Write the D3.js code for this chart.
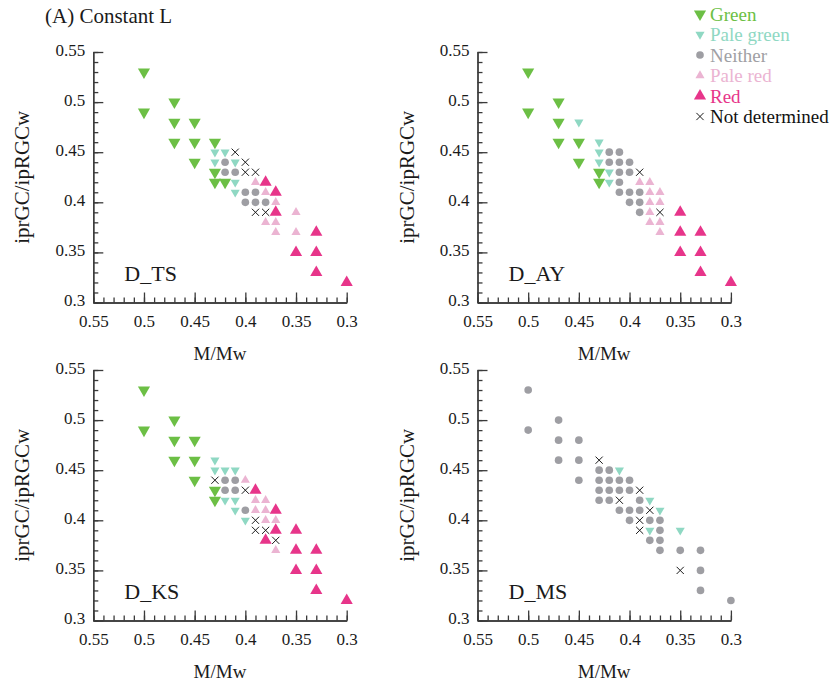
<!DOCTYPE html>
<html>
<head>
<meta charset="utf-8">
<script src="https://cdn.jsdelivr.net/npm/d3@7"></script>
<style>
  body { margin: 0; background: #fff; }
  svg { display: block; }
  svg text { font-family: "Liberation Serif", "DejaVu Serif", serif !important; }
</style>
</head>
<body>
<svg width="829" height="681"></svg>
<script>
// tick labels shared by all four panels
var xTickValues = [0.55, 0.5, 0.45, 0.4, 0.35, 0.3];
var yTickValues = [0.55, 0.5, 0.45, 0.4, 0.35, 0.3];

var categories = ['Green', 'Pale green', 'Neither', 'Pale red', 'Red', 'Not determined'];
var panelNames = ['D_TS', 'D_AY', 'D_KS', 'D_MS'];

// points are [M/Mw, iprGC/ipRGCw]
var tsGreen = [[0.5, 0.53], [0.5, 0.49], [0.47, 0.5], [0.47, 0.48], [0.45, 0.48], [0.47, 0.46], [0.45, 0.46], [0.43, 0.46], [0.45, 0.44], [0.43, 0.43], [0.43, 0.42], [0.42, 0.42]];
var tsPaleGreen = [[0.43, 0.45], [0.42, 0.45], [0.43, 0.44], [0.41, 0.44], [0.41, 0.42], [0.41, 0.41]];
var tsNeither = [[0.42, 0.44], [0.42, 0.43], [0.41, 0.43], [0.4, 0.41], [0.39, 0.41], [0.4, 0.4], [0.39, 0.4], [0.38, 0.4]];
var tsPaleRed = [[0.39, 0.42], [0.38, 0.41], [0.37, 0.4], [0.35, 0.39], [0.38, 0.38], [0.37, 0.38], [0.37, 0.37], [0.35, 0.37]];
var tsRed = [[0.38, 0.42], [0.37, 0.41], [0.37, 0.39], [0.33, 0.37], [0.35, 0.35], [0.33, 0.35], [0.33, 0.33], [0.3, 0.32]];
var tsUndet = [[0.41, 0.45], [0.4, 0.44], [0.4, 0.43], [0.39, 0.43], [0.39, 0.39], [0.38, 0.39]];

var ayGreen = [[0.5, 0.53], [0.5, 0.49], [0.47, 0.5], [0.47, 0.48], [0.47, 0.46], [0.45, 0.46], [0.45, 0.44], [0.43, 0.43], [0.43, 0.42]];
var ayPaleGreen = [[0.45, 0.48], [0.43, 0.46], [0.43, 0.45], [0.43, 0.44], [0.42, 0.43], [0.42, 0.42]];
var ayNeither = [[0.42, 0.45], [0.41, 0.45], [0.42, 0.44], [0.41, 0.44], [0.4, 0.44], [0.41, 0.43], [0.4, 0.43], [0.41, 0.42], [0.41, 0.41], [0.4, 0.41], [0.39, 0.41], [0.4, 0.4], [0.39, 0.4], [0.39, 0.39]];
var ayPaleRed = [[0.39, 0.42], [0.38, 0.42], [0.38, 0.41], [0.37, 0.41], [0.38, 0.4], [0.37, 0.4], [0.38, 0.39], [0.38, 0.38], [0.37, 0.38], [0.37, 0.37]];
var ayRed = [[0.35, 0.39], [0.35, 0.37], [0.33, 0.37], [0.35, 0.35], [0.33, 0.35], [0.33, 0.33], [0.3, 0.32]];
var ayUndet = [[0.39, 0.43], [0.37, 0.39]];

var ksGreen = [[0.5, 0.53], [0.5, 0.49], [0.47, 0.5], [0.47, 0.48], [0.45, 0.48], [0.47, 0.46], [0.45, 0.46], [0.45, 0.44], [0.43, 0.43], [0.43, 0.42]];
var ksPaleGreen = [[0.43, 0.46], [0.43, 0.45], [0.42, 0.45], [0.41, 0.45], [0.42, 0.42], [0.41, 0.42], [0.41, 0.41], [0.4, 0.4]];
var ksNeither = [[0.42, 0.44], [0.41, 0.44], [0.42, 0.43], [0.41, 0.43], [0.4, 0.41]];
var ksPaleRed = [[0.4, 0.44], [0.39, 0.42], [0.38, 0.42], [0.39, 0.41], [0.38, 0.41], [0.38, 0.4], [0.37, 0.4], [0.37, 0.37]];
var ksRed = [[0.39, 0.43], [0.37, 0.41], [0.37, 0.39], [0.35, 0.39], [0.38, 0.38], [0.35, 0.37], [0.33, 0.37], [0.35, 0.35], [0.33, 0.35], [0.33, 0.33], [0.3, 0.32]];
var ksUndet = [[0.43, 0.44], [0.4, 0.43], [0.39, 0.4], [0.39, 0.39], [0.38, 0.39], [0.37, 0.38]];

var msGreen = [];
var msPaleGreen = [[0.41, 0.45], [0.38, 0.42], [0.37, 0.41], [0.38, 0.39], [0.35, 0.39]];
var msNeither = [[0.5, 0.53], [0.5, 0.49], [0.47, 0.5], [0.47, 0.48], [0.45, 0.48], [0.47, 0.46], [0.45, 0.46], [0.45, 0.44], [0.43, 0.45], [0.42, 0.45], [0.43, 0.44], [0.42, 0.44], [0.41, 0.44], [0.4, 0.44], [0.43, 0.43], [0.42, 0.43], [0.41, 0.43], [0.4, 0.43], [0.43, 0.42], [0.42, 0.42], [0.39, 0.42], [0.41, 0.41], [0.4, 0.41], [0.39, 0.41], [0.4, 0.4], [0.38, 0.4], [0.37, 0.4], [0.37, 0.39], [0.38, 0.38], [0.37, 0.38], [0.37, 0.37], [0.35, 0.37], [0.33, 0.37], [0.33, 0.35], [0.33, 0.33], [0.3, 0.32]];
var msPaleRed = [];
var msRed = [];
var msUndet = [[0.43, 0.46], [0.39, 0.43], [0.41, 0.42], [0.38, 0.41], [0.39, 0.4], [0.39, 0.39], [0.35, 0.35]];

var panelData = [
    [tsGreen, tsPaleGreen, tsNeither, tsPaleRed, tsRed, tsUndet],
    [ayGreen, ayPaleGreen, ayNeither, ayPaleRed, ayRed, ayUndet],
    [ksGreen, ksPaleGreen, ksNeither, ksPaleRed, ksRed, ksUndet],
    [msGreen, msPaleGreen, msNeither, msPaleRed, msRed, msUndet]
];

// styling per category
var colors = ['#6cbf45', '#8fd8c3', '#9e9ea3', '#ebb4d2', '#e7358a', '#1a1a1a'];
var serif = '"Liberation Serif", "DejaVu Serif", serif';

var svg = d3.select('svg');
svg.append('rect').attr('width', 829).attr('height', 681).attr('fill', '#fff');

var plotW = 253.4;
var plotH = 250.5;
var origins = [[93.3, 52], [477.5, 52], [93.3, 370], [477.5, 370]];

var xScale = d3.scaleLinear().domain([0.55, 0.3]).range([0, plotW]);
var yScale = d3.scaleLinear().domain([0.3, 0.55]).range([plotH, 0]);
var minorTicks = d3.range(30, 56).map(d => d / 100);

// marker drawing, one shape per category
function drawMarker(sel, cat) {
    if (cat === 5) {
        var s = 3.6;
        sel.append('path')
            .attr('d', `M${-s},${-s}L${s},${s}M${-s},${s}L${s},${-s}`)
            .attr('stroke', colors[5])
            .attr('stroke-width', 1)
            .attr('fill', 'none');
        return;
    }
    var sym;
    if (cat === 2) sym = d3.symbol().type(d3.symbolCircle).size(46);
    else if (cat === 0 || cat === 4) sym = d3.symbol().type(d3.symbolTriangle).size(64);
    else sym = d3.symbol().type(d3.symbolTriangle).size(36);
    var rot = (cat === 0 || cat === 1) ? 180 : 0;
    sel.append('path')
        .attr('d', sym())
        .attr('transform', `rotate(${rot})`)
        .attr('fill', colors[cat]);
}

panelData.forEach(function (sets, p) {
    var g = svg.append('g')
        .attr('transform', `translate(${origins[p][0]}, ${origins[p][1]})`);

    // minor ticks first, then the labelled axes
    g.append('g').attr('class', 'minor')
        .call(d3.axisLeft(yScale).tickValues(minorTicks).tickSize(-5).tickSizeOuter(0).tickFormat(''));
    g.append('g').attr('class', 'minor')
        .attr('transform', `translate(0, ${plotH})`)
        .call(d3.axisBottom(xScale).tickValues(minorTicks).tickSize(-5).tickSizeOuter(0).tickFormat(''));

    var yAxis = g.append('g')
        .call(d3.axisLeft(yScale).tickValues(yTickValues).tickSize(-10).tickSizeOuter(0).tickPadding(8)
            .tickFormat(d3.format('')));
    yAxis.selectAll('text').attr('dy', '0.2em');

    g.append('g')
        .attr('transform', `translate(0, ${plotH})`)
        .call(d3.axisBottom(xScale).tickValues(xTickValues).tickSize(-10).tickSizeOuter(0).tickPadding(12)
            .tickFormat(d3.format('')));

    g.selectAll('g').attr('font-family', serif);
    g.selectAll('.domain, .tick line')
        .attr('stroke', '#3a3a3a')
        .attr('stroke-width', 1.3);
    g.selectAll('.tick text')
        .attr('fill', '#1a1a1a')
        .attr('font-size', 17);

    // axis titles
    g.append('text')
        .attr('transform', `translate(-64, ${plotH / 2}) rotate(-90)`)
        .attr('text-anchor', 'middle')
        .attr('font-family', serif)
        .attr('font-size', 21)
        .attr('fill', '#1a1a1a')
        .text('iprGC/ipRGCw');
    g.append('text')
        .attr('x', plotW / 2)
        .attr('y', plotH + 57)
        .attr('text-anchor', 'middle')
        .attr('font-family', serif)
        .attr('font-size', 19)
        .attr('fill', '#1a1a1a')
        .text('M/Mw');

    // panel name
    g.append('text')
        .attr('x', 31)
        .attr('y', plotH - 22)
        .attr('font-family', serif)
        .attr('font-size', 22)
        .attr('fill', '#1a1a1a')
        .text(panelNames[p]);

    sets.forEach(function (pts, c) {
        g.selectAll('.pt' + c)
            .data(pts)
            .enter()
            .append('g')
            .attr('class', 'pt' + c)
            .attr('transform', d => `translate(${xScale(d[0])}, ${yScale(d[1])})`)
            .each(function () { drawMarker(d3.select(this), c); });
    });
});

// title
svg.append('text')
    .attr('x', 45)
    .attr('y', 23)
    .attr('font-family', serif)
    .attr('font-size', 21)
    .attr('fill', '#1a1a1a')
    .text('(A) Constant L');

// legend
var legendText = ['#6cbf45', '#8fd8c3', '#a0a0a4', '#ebb4d2', '#e7358a', '#111'];
var legend = svg.append('g').attr('transform', 'translate(700, 14)');
categories.forEach(function (name, i) {
    var row = legend.append('g').attr('transform', `translate(0, ${i * 20.5})`);
    drawMarker(row.append('g'), i);
    row.append('text')
        .attr('x', 10)
        .attr('dy', '0.35em')
        .attr('font-family', serif)
        .attr('font-size', 19)
        .attr('fill', legendText[i])
        .text(name);
});
</script>
</body>
</html>
